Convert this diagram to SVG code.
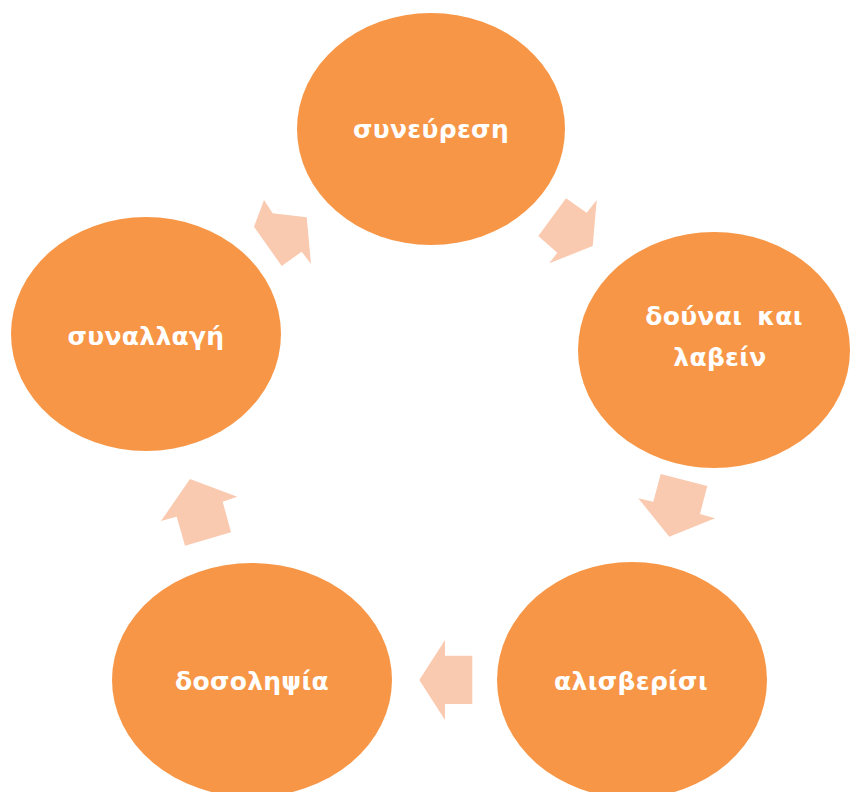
<svg xmlns="http://www.w3.org/2000/svg" width="850" height="792" viewBox="0 0 850 792">
<style>
.node{fill:#F79646}
.lbl{fill:#fff;font-family:"DejaVu Sans","Noto Sans",sans-serif;font-weight:bold;font-size:25px;text-anchor:middle;letter-spacing:0.3px}
.arr{fill:#FACAB0}
</style>
<rect width="850" height="792" fill="#fff"/>
<g id="connectors">
<polygon class="arr" points="566,198.3 586.7,212.7 596.7,200 592.7,246 549.3,263.3 557.3,252.7 538.3,236"/>
<polygon class="arr" points="660.7,474 707.3,486 700,514 715,518.3 669.3,536.7 638.3,498.3 653.3,501.7"/>
<polygon class="arr" points="445,640 445,655.7 472.3,655.7 472.3,704 445,704 445,720 419.3,680"/>
<polygon class="arr" points="190,479 237.3,496.7 222.7,501.7 231,532.3 185,545.7 176.7,516.7 161,521"/>
<polygon class="arr" points="264,200 272.7,213.3 306.7,217.3 311,264 301.7,251.7 281.7,266 254,226.7"/>
</g>
<g id="n1"><ellipse class="node" cx="431" cy="129" rx="134" ry="116"/><text class="lbl" x="431" y="138">συνεύρεση</text></g>
<g id="n2"><ellipse class="node" cx="714" cy="350" rx="136" ry="118"/><text class="lbl" x="724" y="325" word-spacing="6">δούναι και</text><text class="lbl" x="720" y="366">λαβείν</text></g>
<g id="n3"><ellipse class="node" cx="632" cy="680" rx="135" ry="118"/><text class="lbl" x="631" y="690">αλισβερίσι</text></g>
<g id="n4"><ellipse class="node" cx="252" cy="680" rx="140" ry="117"/><text class="lbl" x="252" y="690">δοσοληψία</text></g>
<g id="n5"><ellipse class="node" cx="146" cy="334" rx="135" ry="117"/><text class="lbl" x="146" y="345">συναλλαγή</text></g>
</svg>
